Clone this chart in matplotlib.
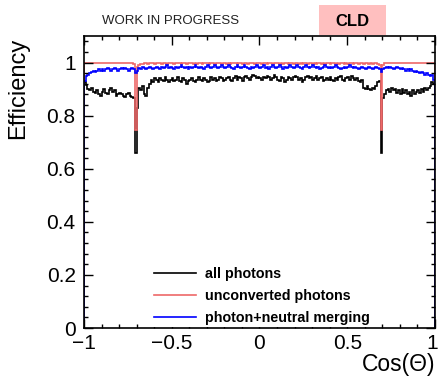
import numpy as np
import matplotlib
matplotlib.use("Agg")
from matplotlib import pyplot as plt
from matplotlib.patches import Rectangle
from matplotlib.ticker import MultipleLocator
from matplotlib.transforms import ScaledTranslation

plt.rcParams['font.family'] = ['Liberation Sans', 'DejaVu Sans']

edges = np.linspace(-1, 1, 201)

all_photons = [
    0.925, 0.915, 0.900, 0.895, 0.905, 0.890, 0.885, 0.895, 0.880, 0.875, 0.890, 0.900, 0.885, 0.880, 0.895, 0.905, 0.890, 0.895, 0.875, 0.880,
    0.885, 0.880, 0.875, 0.870, 0.880, 0.885, 0.875, 0.870, 0.865, 0.660, 0.830, 0.905, 0.895, 0.910, 0.880, 0.875, 0.905, 0.920, 0.935, 0.925,
    0.940, 0.935, 0.925, 0.940, 0.935, 0.930, 0.945, 0.935, 0.925, 0.935, 0.940, 0.930, 0.935, 0.945, 0.930, 0.925, 0.940, 0.935, 0.920, 0.930,
    0.935, 0.940, 0.930, 0.925, 0.935, 0.945, 0.935, 0.930, 0.940, 0.935, 0.925, 0.930, 0.945, 0.935, 0.940, 0.930, 0.935, 0.945, 0.940, 0.930,
    0.935, 0.940, 0.945, 0.935, 0.930, 0.940, 0.950, 0.935, 0.945, 0.940, 0.930, 0.945, 0.950, 0.940, 0.935, 0.945, 0.955, 0.950, 0.940, 0.945,
    0.940, 0.935, 0.945, 0.940, 0.950, 0.945, 0.935, 0.940, 0.955, 0.945, 0.935, 0.930, 0.945, 0.940, 0.925, 0.935, 0.945, 0.940, 0.935, 0.945,
    0.950, 0.945, 0.935, 0.940, 0.925, 0.935, 0.945, 0.950, 0.940, 0.945, 0.935, 0.940, 0.950, 0.935, 0.940, 0.945, 0.930, 0.935, 0.940, 0.935,
    0.945, 0.935, 0.930, 0.940, 0.935, 0.945, 0.950, 0.935, 0.930, 0.940, 0.945, 0.935, 0.950, 0.940, 0.935, 0.940, 0.930, 0.925, 0.935, 0.905,
    0.900, 0.910, 0.900, 0.895, 0.905, 0.900, 0.910, 0.925, 0.930, 0.660, 0.865, 0.880, 0.895, 0.900, 0.890, 0.905, 0.895, 0.900, 0.885, 0.895,
    0.880, 0.900, 0.885, 0.895, 0.880, 0.890, 0.875, 0.895, 0.880, 0.890, 0.895, 0.885, 0.900, 0.890, 0.905, 0.895, 0.905, 0.910, 0.925, 0.920,
]

unconverted = [
    0.998, 0.998, 0.998, 0.998, 0.998, 0.997, 0.998, 0.998, 0.998, 0.998, 0.997, 0.998, 0.998, 0.998, 0.998, 0.998, 0.998, 0.997, 0.998, 0.998,
    0.998, 0.997, 0.998, 0.998, 0.998, 0.997, 0.998, 0.998, 0.995, 0.745, 0.985, 0.990, 0.995, 0.993, 0.997, 0.998, 0.996, 0.998, 0.997, 0.998,
    0.996, 0.998, 0.997, 0.999, 0.996, 0.998, 0.997, 0.995, 0.998, 0.997, 0.999, 0.996, 0.998, 0.997, 0.998, 0.995, 0.997, 0.998, 0.996, 0.998,
    0.997, 0.999, 0.996, 0.998, 0.995, 0.997, 0.998, 0.996, 0.999, 0.997, 0.998, 0.995, 0.997, 0.998, 0.996, 0.998, 0.997, 0.999, 0.996, 0.998,
    0.997, 0.995, 0.998, 0.996, 0.998, 0.997, 0.999, 0.995, 0.997, 0.998, 0.996, 0.998, 0.997, 0.995, 0.998, 0.997, 0.999, 0.996, 0.998, 0.997,
    0.998, 0.996, 0.997, 0.999, 0.995, 0.998, 0.997, 0.996, 0.998, 0.999, 0.997, 0.995, 0.998, 0.996, 0.997, 0.999, 0.996, 0.998, 0.997, 0.995,
    0.998, 0.997, 0.996, 0.998, 0.995, 0.997, 0.999, 0.996, 0.998, 0.997, 0.995, 0.998, 0.996, 0.997, 0.999, 0.996, 0.998, 0.995, 0.997, 0.998,
    0.996, 0.998, 0.997, 0.995, 0.998, 0.996, 0.999, 0.997, 0.995, 0.998, 0.996, 0.997, 0.998, 0.995, 0.997, 0.999, 0.996, 0.998, 0.997, 0.996,
    0.998, 0.997, 0.995, 0.998, 0.996, 0.997, 0.998, 0.996, 0.990, 0.745, 0.990, 0.997, 0.998, 0.997, 0.998, 0.998, 0.997, 0.998, 0.998, 0.997,
    0.998, 0.998, 0.997, 0.998, 0.998, 0.998, 0.997, 0.998, 0.998, 0.998, 0.997, 0.998, 0.998, 0.998, 0.998, 0.997, 0.998, 0.998, 0.998, 0.997,
]

merging = [
    0.930, 0.950, 0.955, 0.960, 0.965, 0.970, 0.965, 0.970, 0.975, 0.970, 0.975, 0.970, 0.975, 0.980, 0.975, 0.970, 0.975, 0.980, 0.975, 0.970,
    0.975, 0.980, 0.975, 0.980, 0.975, 0.970, 0.975, 0.980, 0.975, 0.960, 0.970, 0.980, 0.975, 0.985, 0.980, 0.975, 0.980, 0.985, 0.980, 0.975,
    0.980, 0.985, 0.980, 0.975, 0.985, 0.980, 0.985, 0.990, 0.980, 0.985, 0.980, 0.975, 0.985, 0.980, 0.985, 0.990, 0.985, 0.980, 0.985, 0.975,
    0.985, 0.980, 0.985, 0.990, 0.985, 0.980, 0.985, 0.980, 0.975, 0.985, 0.990, 0.985, 0.980, 0.985, 0.990, 0.985, 0.980, 0.985, 0.990, 0.985,
    0.980, 0.985, 0.990, 0.985, 0.980, 0.975, 0.985, 0.990, 0.985, 0.980, 0.985, 0.990, 0.985, 0.980, 0.975, 0.985, 0.980, 0.985, 0.990, 0.985,
    0.980, 0.985, 0.990, 0.980, 0.985, 0.975, 0.985, 0.990, 0.985, 0.980, 0.985, 0.990, 0.985, 0.975, 0.985, 0.980, 0.985, 0.990, 0.985, 0.980,
    0.985, 0.990, 0.985, 0.980, 0.975, 0.985, 0.990, 0.985, 0.980, 0.985, 0.990, 0.985, 0.980, 0.985, 0.975, 0.980, 0.985, 0.990, 0.985, 0.980,
    0.985, 0.980, 0.985, 0.990, 0.985, 0.980, 0.975, 0.980, 0.985, 0.980, 0.985, 0.990, 0.985, 0.980, 0.985, 0.980, 0.975, 0.980, 0.985, 0.980,
    0.975, 0.980, 0.985, 0.980, 0.975, 0.980, 0.985, 0.980, 0.975, 0.965, 0.975, 0.980, 0.985, 0.980, 0.985, 0.980, 0.975, 0.980, 0.985, 0.980,
    0.975, 0.980, 0.975, 0.970, 0.975, 0.970, 0.975, 0.970, 0.965, 0.970, 0.965, 0.960, 0.965, 0.960, 0.955, 0.960, 0.955, 0.950, 0.955, 0.935,
]

labels = ['all photons', 'unconverted photons', 'photon+neutral merging']
colors = ['black', '#ee6868', '#0000ff']

fig = plt.figure(figsize=(4.39, 3.84), dpi=100)
ax = fig.add_axes([0.1913, 0.1458, 0.7996, 0.7604])

for vals, lab, col in zip([all_photons, unconverted, merging], labels, colors):
    ax.stairs(vals, edges, baseline=0, color=col, lw=1.2, label=lab)

ax.set_xlim(-1, 1)
ax.set_ylim(0, 1.1)
ax.xaxis.set_major_locator(MultipleLocator(0.5))
ax.xaxis.set_minor_locator(MultipleLocator(0.1))
ax.yaxis.set_major_locator(MultipleLocator(0.2))
ax.yaxis.set_minor_locator(MultipleLocator(0.04))
ax.tick_params(which='both', direction='in', top=True, right=True, labelsize=15, width=1)
ax.tick_params(which='major', length=6.5, pad=4)
ax.tick_params(which='minor', length=3.2)
ax.tick_params(axis='y', pad=6)
ax.set_yticks([0, 0.2, 0.4, 0.6, 0.8, 1.0], ['0', '0.2', '0.4', '0.6', '0.8', '1'])
ax.set_xticks([-1, -0.5, 0, 0.5, 1], ['\u22121', '\u22120.5', '0', '0.5', '1'])
last = ax.get_xticklabels()[-1]
last.set_transform(last.get_transform() + ScaledTranslation(-0.03, 0, fig.dpi_scale_trans))
for s in ax.spines.values():
    s.set_linewidth(1.2)

leg = ax.legend(loc='lower left', bbox_to_anchor=(0.192, 0.004), frameon=True, fancybox=False,
                edgecolor='none', facecolor='white', framealpha=1,
                prop={'weight': 'bold', 'size': 10.3}, handlelength=3.0, handletextpad=0.6,
                labelspacing=0.55, borderpad=0.15, borderaxespad=0)
for h in leg.get_lines():
    h.set_linewidth(1.2)

fig.text(18 / 439, 1 - 38 / 384, 'Efficiency', rotation=90, ha='center', va='top', fontsize=17)
fig.text(435 / 439, 1 - 365 / 384, 'Cos(\u0398)', ha='right', va='center', fontsize=16.5)

fig.text(102 / 439, 1 - 21 / 384, 'WORK IN PROGRESS', ha='left', va='center', fontsize=9.5, color='#222222')
fig.patches.append(Rectangle((319 / 439, 1 - 35 / 384), 67 / 439, 30 / 384, transform=fig.transFigure,
                             facecolor='#ffbfbf', edgecolor='none', zorder=1))
fig.text(352 / 439, 1 - 21 / 384, 'CLD', ha='center', va='center', fontsize=12, fontweight='bold', zorder=2)

fig.savefig('out.png', dpi=100)
